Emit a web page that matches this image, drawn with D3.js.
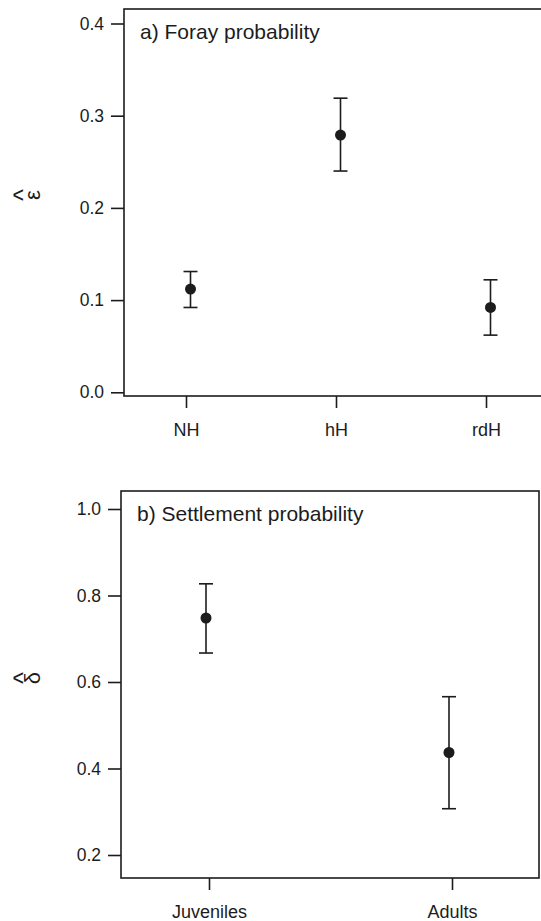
<!DOCTYPE html>
<html>
<head>
<meta charset="utf-8">
<script src="https://cdn.jsdelivr.net/npm/d3@7"></script>
<style>
  html, body { margin: 0; padding: 0; background: #fff; }
  svg text { font-family: "Liberation Sans", Arial, sans-serif; fill: #1c1c1c; }
</style>
</head>
<body>
<div id="chart"></div>
<script>
// panel a: foray probability by habitat
const habitats = ["NH", "hH", "rdH"];
const forayEst = [0.112, 0.279, 0.092];
const forayLow = [0.092, 0.240, 0.062];
const forayHigh = [0.131, 0.319, 0.122];
const forayTicks = [0.0, 0.1, 0.2, 0.3, 0.4];

// panel b: settlement probability by age class
const ages = ["Juveniles", "Adults"];
const settleEst = [0.748, 0.437];
const settleLow = [0.667, 0.307];
const settleHigh = [0.827, 0.566];
const settleTicks = [0.2, 0.4, 0.6, 0.8, 1.0];

const ink = "#1c1c1c";

const svg = d3.select("#chart")
    .append("svg")
    .attr("width", 541)
    .attr("height", 921);

// draws one boxed panel with point estimates and error bars
function drawPanel({ box, cats, est, low, high, ticks, yDomain, yRange, xRange, dodge, title, symbol }) {
    const x = d3.scalePoint().domain(cats).range(xRange);
    const y = d3.scaleLinear().domain(yDomain).range(yRange);
    const g = svg.append("g");

    // frame
    g.append("rect")
        .attr("x", box.left)
        .attr("y", box.top)
        .attr("width", box.right - box.left)
        .attr("height", box.bottom - box.top)
        .attr("fill", "none")
        .attr("stroke", ink)
        .attr("stroke-width", 1.6);

    // y axis, ticks only outside the frame
    const yAxis = g.append("g")
        .attr("transform", `translate(${box.left},0)`)
        .call(d3.axisLeft(y).tickValues(ticks).tickFormat(d3.format(".1f")).tickSize(13).tickPadding(7));
    yAxis.select(".domain").remove();
    yAxis.selectAll("line").attr("stroke", ink).attr("stroke-width", 1.6);
    yAxis.selectAll("text").attr("font-size", 17.5).attr("fill", ink)
        .style("font-family", "Liberation Sans, Arial, sans-serif");

    // x axis
    const xAxis = g.append("g")
        .attr("transform", `translate(0,${box.bottom})`)
        .call(d3.axisBottom(x).tickSize(12).tickPadding(15));
    xAxis.select(".domain").remove();
    xAxis.selectAll("line").attr("stroke", ink).attr("stroke-width", 1.6);
    xAxis.selectAll("text").attr("font-size", 18).attr("fill", ink)
        .style("font-family", "Liberation Sans, Arial, sans-serif");

    const rows = cats.map((c, i) => ({ cat: c, est: est[i], low: low[i], high: high[i] }));
    const cx = (d) => x(d.cat) + dodge;

    const bars = g.selectAll(".bar").data(rows).enter().append("g").attr("class", "bar");
    bars.append("line")
        .attr("x1", cx).attr("x2", cx)
        .attr("y1", (d) => y(d.low)).attr("y2", (d) => y(d.high))
        .attr("stroke", ink).attr("stroke-width", 1.6);
    [ "low", "high" ].forEach((k) => {
        bars.append("line")
            .attr("x1", (d) => cx(d) - 7).attr("x2", (d) => cx(d) + 7)
            .attr("y1", (d) => y(d[k])).attr("y2", (d) => y(d[k]))
            .attr("stroke", ink).attr("stroke-width", 1.6);
    });
    bars.append("circle")
        .attr("cx", cx)
        .attr("cy", (d) => y(d.est))
        .attr("r", 5.5)
        .attr("fill", ink);

    // panel title
    g.append("text")
        .attr("x", box.left + 16)
        .attr("y", box.top + 30)
        .attr("font-size", 21)
        .text(title);

    // rotated y label with hat
    const lab = g.append("g")
        .attr("transform", `translate(40,${symbol.y}) rotate(-90)`);
    lab.append("text")
        .attr("text-anchor", "middle")
        .attr("font-size", 22)
        .text(symbol.glyph);
    lab.append("text")
        .attr("text-anchor", "middle")
        .attr("y", -8)
        .attr("font-size", 25)
        .text("^");
}

drawPanel({
    box: { left: 124, top: 9, right: 560, bottom: 396 },
    cats: habitats, est: forayEst, low: forayLow, high: forayHigh,
    ticks: forayTicks,
    yDomain: [0, 0.4], yRange: [392.3, 23.5],
    xRange: [186, 486],
    dodge: 4.5,
    title: "a) Foray probability",
    symbol: { glyph: "ε", y: 195 }
});

drawPanel({
    box: { left: 121, top: 491, right: 539, bottom: 878 },
    cats: ages, est: settleEst, low: settleLow, high: settleHigh,
    ticks: settleTicks,
    yDomain: [0.2, 1.0], yRange: [855, 509],
    xRange: [209, 452],
    dodge: -3,
    title: "b) Settlement probability",
    symbol: { glyph: "δ", y: 678 }
});
</script>
</body>
</html>
